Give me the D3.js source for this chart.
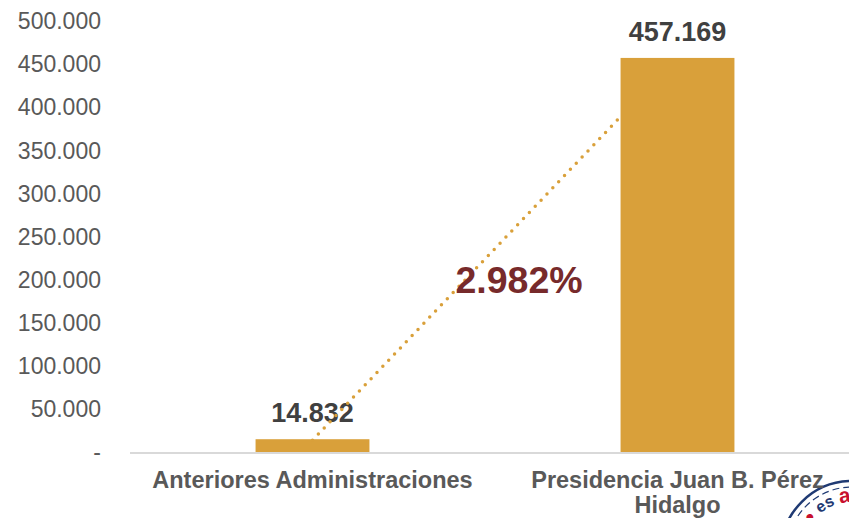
<!DOCTYPE html>
<html>
<head>
<meta charset="utf-8">
<script src="https://cdn.jsdelivr.net/npm/d3@7"></script>
<style>
  body { margin: 0; background: #fff; }
  svg { display: block; font-family: Arial, "Liberation Sans", sans-serif; }
</style>
</head>
<body>
<svg></svg>
<script>
var width = 849;
var height = 518;

// data
var categories = ["Anteriores Administraciones", "Presidencia Juan B. Pérez Hidalgo"];
var categoryLines = [["Anteriores Administraciones"], ["Presidencia Juan B. Pérez", "Hidalgo"]];
var values = [14832, 457169];
var yTicks = [0, 50000, 100000, 150000, 200000, 250000, 300000, 350000, 400000, 450000, 500000];
var growthLabel = "2.982%";
var trendValues = [14832, 389000]; // dotted line, from bar 1 top to bar 2 side

var barColor = "#D9A03A";

var locale = d3.formatLocale({decimal: ",", thousands: ".", grouping: [3], currency: ["", ""]});
var fmt = locale.format(",d");

var svg = d3.select("svg")
    .attr("width", width)
    .attr("height", height);

var x = d3.scaleBand()
    .domain(categories)
    .range([130, 860])
    .paddingInner(0.688)
    .paddingOuter(0.344);

var y = d3.scaleLinear()
    .domain([0, 500000])
    .range([452, 21]);

// stamp in the corner (partly cut off), drawn first so labels sit on top
var stamp = svg.append("g").attr("transform", "translate(852,552)");
stamp.append("circle")
    .attr("r", 71)
    .attr("fill", "#fff")
    .attr("stroke", "#1F3A73")
    .attr("stroke-width", 2.5);
stamp.append("circle")
    .attr("r", 65)
    .attr("fill", "none")
    .attr("stroke", "#1F3A73")
    .attr("stroke-width", 1.2)
    .attr("stroke-dasharray", "7 4");

var deg = Math.PI / 180;
var arcPath = d3.path();
arcPath.moveTo(50 * Math.cos(-146 * deg), 50 * Math.sin(-146 * deg));
arcPath.arc(0, 0, 50, -146 * deg, 40 * deg, false);
stamp.append("path")
    .attr("id", "stampArc")
    .attr("fill", "none")
    .attr("d", arcPath.toString());
var stampText = stamp.append("text")
    .style("font-size", "16px")
    .style("font-weight", "bold")
    .append("textPath")
        .attr("href", "#stampArc")
        .attr("startOffset", 0);
stampText.append("tspan").attr("fill", "#C8102E").text("● ");
stampText.append("tspan").attr("fill", "#1F3A73").text("es ");
stampText.append("tspan").attr("fill", "#C8102E").style("font-size", "21px").text("ahora");

// y tick labels
svg.append("g")
    .selectAll("text")
    .data(yTicks)
    .enter()
    .append("text")
        .attr("x", 101)
        .attr("y", d => y(d))
        .attr("dy", "0.36em")
        .style("text-anchor", "end")
        .style("font-size", "23px")
        .style("fill", "#595959")
        .text(d => d === 0 ? "-" : fmt(d));

// bars
svg.append("g")
    .selectAll("rect")
    .data(values)
    .enter()
    .append("rect")
        .attr("x", (d, i) => x(categories[i]))
        .attr("y", d => y(d))
        .attr("width", x.bandwidth())
        .attr("height", d => y(0) - y(d))
        .attr("fill", barColor);

// baseline
svg.append("line")
    .attr("x1", 130)
    .attr("x2", width)
    .attr("y1", y(0) + 1)
    .attr("y2", y(0) + 1)
    .attr("stroke", "#D9D9D9")
    .attr("stroke-width", 2);

// value labels
svg.append("g")
    .selectAll("text")
    .data(values)
    .enter()
    .append("text")
        .attr("x", (d, i) => x(categories[i]) + x.bandwidth() / 2)
        .attr("y", d => y(d) - 17)
        .style("text-anchor", "middle")
        .style("font-size", "27px")
        .style("font-weight", "bold")
        .style("fill", "#404040")
        .text(d => fmt(d));

// dotted growth line
svg.append("line")
    .attr("x1", x(categories[0]) + x.bandwidth() / 2)
    .attr("y1", y(trendValues[0]) + 1)
    .attr("x2", x(categories[1]))
    .attr("y2", y(trendValues[1]))
    .attr("stroke", barColor)
    .attr("stroke-width", 3.5)
    .attr("stroke-linecap", "round")
    .attr("stroke-dasharray", "0 8.5");

// growth label
svg.append("text")
    .attr("x", (x(categories[0]) + x(categories[1]) + x.bandwidth()) / 2 + 24)
    .attr("y", y(184000))
    .style("text-anchor", "middle")
    .style("font-size", "37.5px")
    .style("font-weight", "bold")
    .style("fill", "#772A2B")
    .text(growthLabel);

// category labels
svg.append("g")
    .selectAll("text")
    .data(categoryLines)
    .enter()
    .append("text")
        .attr("x", (d, i) => x(categories[i]) + x.bandwidth() / 2)
        .attr("y", 488)
        .style("text-anchor", "middle")
        .style("font-size", "23.5px")
        .style("font-weight", "bold")
        .style("fill", "#595959")
        .each(function(lines) {
            d3.select(this).selectAll("tspan")
                .data(lines)
                .enter()
                .append("tspan")
                    .attr("x", d3.select(this).attr("x"))
                    .attr("dy", (l, j) => j === 0 ? 0 : 25)
                    .text(l => l);
        });
</script>
</body>
</html>
